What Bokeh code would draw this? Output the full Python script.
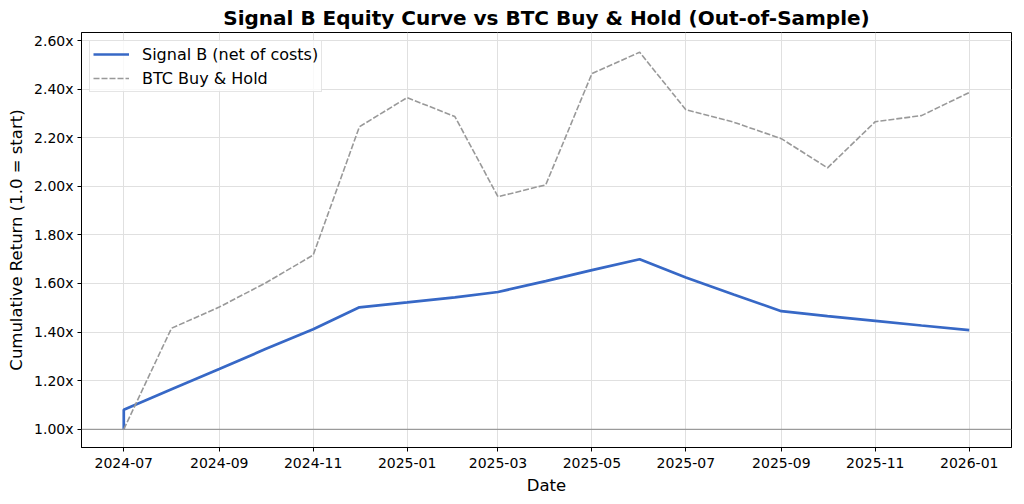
from datetime import datetime
import pandas as pd
from bokeh.plotting import figure
from bokeh.models import (Range1d, FixedTicker, PrintfTickFormatter, DatetimeTickFormatter,
                          Span, Legend, LegendItem, ColumnDataSource)
from bokeh.embed import file_html
from bokeh.resources import INLINE

# ---- data ----
signal_dates = ["2024-07-01", "2024-07-01", "2024-08-01", "2024-09-01", "2024-10-01", "2024-11-01",
                "2024-12-01", "2025-01-01", "2025-02-01", "2025-03-01", "2025-04-01", "2025-05-01",
                "2025-06-01", "2025-07-01", "2025-08-01", "2025-09-01", "2025-10-01", "2025-11-01",
                "2025-12-01", "2026-01-01"]
signal_values = [1.000, 1.080, 1.165, 1.248, 1.330, 1.412,
                 1.502, 1.522, 1.543, 1.565, 1.610, 1.655,
                 1.700, 1.625, 1.555, 1.486, 1.466, 1.446,
                 1.427, 1.408]

btc_dates = ["2024-07-01", "2024-08-01", "2024-09-01", "2024-10-01", "2024-11-01", "2024-12-01",
             "2025-01-01", "2025-02-01", "2025-03-01", "2025-04-01", "2025-05-01", "2025-06-01",
             "2025-07-01", "2025-08-01", "2025-09-01", "2025-10-01", "2025-11-01", "2025-12-01",
             "2026-01-01"]
btc_values = [1.000, 1.416, 1.503, 1.602, 1.717, 2.245,
              2.365, 2.287, 1.957, 2.006, 2.464, 2.552,
              2.315, 2.264, 2.196, 2.076, 2.266, 2.291,
              2.386]

x_tick_labels = ["2024-07", "2024-09", "2024-11", "2025-01", "2025-03", "2025-05",
                 "2025-07", "2025-09", "2025-11", "2026-01"]
y_ticks = [1.0, 1.2, 1.4, 1.6, 1.8, 2.0, 2.2, 2.4, 2.6]

title_text = "Signal B Equity Curve vs BTC Buy & Hold (Out-of-Sample)"
signal_label = "Signal B (net of costs)"
btc_label = "BTC Buy & Hold"

FONT = "DejaVu Sans"

sig_src = ColumnDataSource(dict(x=pd.to_datetime(signal_dates), y=signal_values))
btc_src = ColumnDataSource(dict(x=pd.to_datetime(btc_dates), y=btc_values))

x0 = pd.Timestamp("2024-07-01") - pd.Timedelta(days=27.45)
x1 = pd.Timestamp("2026-01-01") + pd.Timedelta(days=27.45)

p = figure(width=1014, height=499, x_axis_type="datetime",
           output_backend="svg", toolbar_location=None,
           x_range=Range1d(x0, x1), y_range=Range1d(0.925, 2.633),
           min_border_left=81, min_border_right=3, min_border_top=32, min_border_bottom=52)

p.title.text = title_text
p.title.align = "center"
p.title.text_font = FONT
p.title.text_font_size = "20px"
p.title.text_font_style = "bold"
p.title.text_color = "black"
p.title.offset = 0
p.title.standoff = 6

p.outline_line_color = "black"
p.outline_line_width = 1
p.outline_line_alpha = 1

# grid
for g in (p.xgrid, p.ygrid):
    g.grid_line_color = "#e0e0e0"
    g.grid_line_width = 1

# ticks
tick_ms = [pd.Timestamp(t + "-01").value // 10**6 for t in x_tick_labels]
p.xaxis.ticker = FixedTicker(ticks=tick_ms)
p.xaxis.formatter = DatetimeTickFormatter(months="%Y-%m", days="%Y-%m", years="%Y-%m")
p.yaxis.ticker = FixedTicker(ticks=y_ticks)
p.yaxis.formatter = PrintfTickFormatter(format="%.2fx")

for ax in (p.xaxis, p.yaxis):
    ax.major_tick_in = 0
    ax.major_tick_out = 4
    ax.minor_tick_line_color = None
    ax.axis_line_color = "black"
    ax.major_tick_line_color = "black"
    ax.major_label_text_font = FONT
    ax.major_label_text_font_size = "14px"
    ax.major_label_text_color = "black"
    ax.axis_label_text_font = FONT
    ax.axis_label_text_font_size = "16.5px"
    ax.axis_label_text_font_style = "normal"
    ax.axis_label_text_color = "black"

p.xaxis.axis_label = "Date"
p.yaxis.axis_label = "Cumulative Return (1.0 = start)"
p.xaxis.major_label_standoff = 6
p.yaxis.major_label_standoff = 4
p.xaxis.axis_label_standoff = 5
p.yaxis.axis_label_standoff = 5

base = Span(location=1.0, dimension="width", line_color="#888888", line_width=1.2, line_alpha=0.8)
p.add_layout(base)

r_sig = p.line("x", "y", source=sig_src, line_color="#3768c6", line_width=2.7)
r_btc = p.line("x", "y", source=btc_src, line_color="#999999", line_width=1.6, line_dash="6 2")

legend = Legend(items=[LegendItem(label=signal_label, renderers=[r_sig]),
                       LegendItem(label=btc_label, renderers=[r_btc])],
                location="top_left")
legend.label_text_font = FONT
legend.label_text_font_size = "16px"
legend.label_text_color = "black"
legend.border_line_color = "#cccccc"
legend.border_line_width = 1
legend.background_fill_alpha = 0.8
legend.margin = 8
legend.padding = 3
legend.spacing = 4
legend.glyph_width = 36
legend.label_standoff = 13
legend.label_height = 20
legend.glyph_height = 20
p.add_layout(legend)

open("out.html", "w").write(file_html(p, INLINE))
